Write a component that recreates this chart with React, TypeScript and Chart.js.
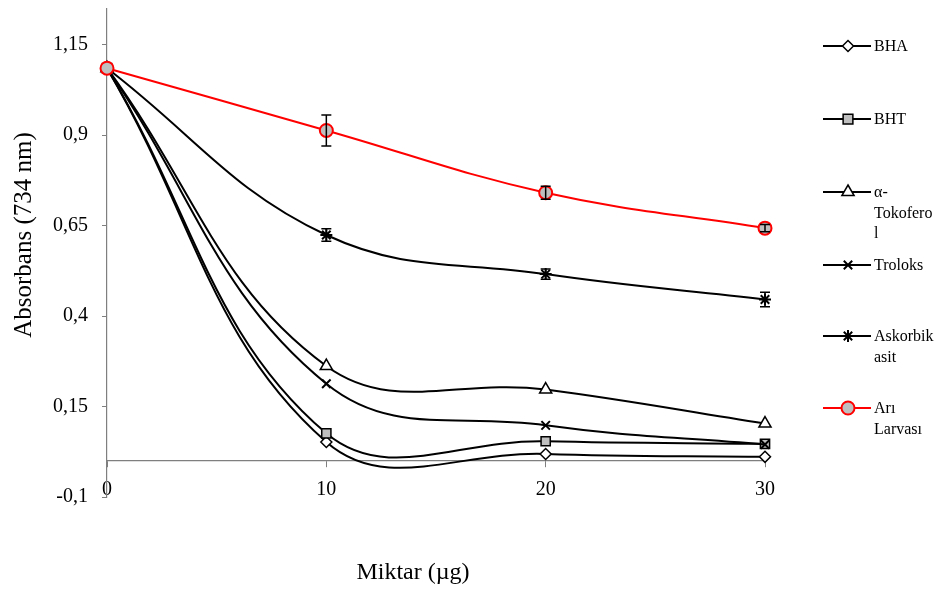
import React, { useEffect, useRef } from 'react';
import { Chart, registerables } from 'chart.js';

Chart.register(...registerables);

// ---- data ----
const xValues = [0, 10, 20, 30];
const bha = [1.085, 0.052, 0.019, 0.011];
const bht = [1.085, 0.076, 0.054, 0.047];
const tokoferol = [1.085, 0.262, 0.197, 0.103];
const troloks = [1.085, 0.213, 0.098, 0.045];
const askorbik = [1.085, 0.624, 0.516, 0.446];
const ariLarvasi = [1.085, 0.913, 0.741, 0.643];
const askorbikErr = [0, 0.017, 0.014, 0.02];
const ariLarvasiErr = [0, 0.043, 0.018, 0.01];
const yTickValues = [-0.1, 0.15, 0.4, 0.65, 0.9, 1.15];
const yTickLabels = ['-0,1', '0,15', '0,4', '0,65', '0,9', '1,15'];
const xTickValues = [0, 10, 20, 30];
const legendLabels = [['BHA'], ['BHT'], ['α-', 'Tokofero', 'l'], ['Troloks'], ['Askorbik', 'asit'], ['Arı', 'Larvası']];
const xTitle = 'Miktar (µg)';
const yTitle = 'Absorbans (734 nm)';

const SERIF = "'Liberation Serif', 'Times New Roman', serif";
const AXIS_COLOR = '#7f7f7f';

const styles = [
  { pointStyle: 'rectRot', radius: 5.5, bg: '#ffffff', border: '#000000', line: '#000000', bw: 1.5 },
  { pointStyle: 'rect', radius: 6.5, bg: '#bfbfbf', border: '#000000', line: '#000000', bw: 1.5 },
  { pointStyle: 'triangle', radius: 7, bg: '#ffffff', border: '#000000', line: '#000000', bw: 1.5 },
  { pointStyle: 'crossRot', radius: 6, bg: '#000000', border: '#000000', line: '#000000', bw: 2 },
  { pointStyle: 'star', radius: 6, bg: '#000000', border: '#000000', line: '#000000', bw: 2 },
  { pointStyle: 'circle', radius: 6.5, bg: '#bfbfbf', border: '#ff0000', line: '#ff0000', bw: 2 },
];

const seriesValues = [bha, bht, tokoferol, troloks, askorbik, ariLarvasi];
const seriesErrors: (number[] | null)[] = [null, null, null, null, askorbikErr, ariLarvasiErr];

function drawMarker(ctx: CanvasRenderingContext2D, s: any, x: number, y: number) {
  const r = s.radius;
  ctx.save();
  ctx.fillStyle = s.bg;
  ctx.strokeStyle = s.border;
  ctx.lineWidth = s.bw;
  ctx.beginPath();
  switch (s.pointStyle) {
    case 'rectRot':
      ctx.moveTo(x, y - r); ctx.lineTo(x + r, y); ctx.lineTo(x, y + r); ctx.lineTo(x - r, y); ctx.closePath();
      ctx.fill(); ctx.stroke(); break;
    case 'rect': {
      const h = r * 0.75;
      ctx.rect(x - h, y - h, 2 * h, 2 * h); ctx.fill(); ctx.stroke(); break;
    }
    case 'triangle':
      ctx.moveTo(x, y - r); ctx.lineTo(x + r * 0.87, y + r * 0.5); ctx.lineTo(x - r * 0.87, y + r * 0.5); ctx.closePath();
      ctx.fill(); ctx.stroke(); break;
    case 'crossRot': {
      const d = r * 0.7;
      ctx.moveTo(x - d, y - d); ctx.lineTo(x + d, y + d); ctx.moveTo(x + d, y - d); ctx.lineTo(x - d, y + d); ctx.stroke(); break;
    }
    case 'star': {
      const d = r * 0.7;
      ctx.moveTo(x - d, y - d); ctx.lineTo(x + d, y + d); ctx.moveTo(x + d, y - d); ctx.lineTo(x - d, y + d);
      ctx.moveTo(x, y - r); ctx.lineTo(x, y + r); ctx.stroke(); break;
    }
    case 'circle':
    default:
      ctx.arc(x, y, r, 0, Math.PI * 2); ctx.fill(); ctx.stroke(); break;
  }
  ctx.restore();
}

const errorBarPlugin = {
  id: 'errorBars',
  afterDatasetsDraw(chart: any) {
    const ctx = chart.ctx as CanvasRenderingContext2D;
    const xs = chart.scales.x;
    const ys = chart.scales.y;
    ctx.save();
    ctx.strokeStyle = '#000000';
    ctx.lineWidth = 1.5;
    seriesErrors.forEach((errs, si) => {
      if (!errs) return;
      errs.forEach((e, i) => {
        if (!e) return;
        const v = seriesValues[si][i];
        const px = xs.getPixelForValue(xValues[i]);
        const top = ys.getPixelForValue(v + e);
        const bot = ys.getPixelForValue(v - e);
        ctx.beginPath();
        ctx.moveTo(px, top); ctx.lineTo(px, bot);
        ctx.moveTo(px - 5, top); ctx.lineTo(px + 5, top);
        ctx.moveTo(px - 5, bot); ctx.lineTo(px + 5, bot);
        ctx.stroke();
      });
    });
    ctx.restore();
  },
};

const decorPlugin = {
  id: 'decor',
  afterDraw(chart: any) {
    const ctx = chart.ctx as CanvasRenderingContext2D;
    ctx.save();
    // axis titles
    ctx.fillStyle = '#000000';
    ctx.textAlign = 'center';
    ctx.textBaseline = 'middle';
    ctx.font = `24px ${SERIF}`;
    ctx.fillText(xTitle, 413, 573);
    ctx.save();
    ctx.translate(24, 235);
    ctx.rotate(-Math.PI / 2);
    ctx.font = `25px ${SERIF}`;
    ctx.fillText(yTitle, 0, 0);
    ctx.restore();

    // legend
    const legendY = [46, 119, 192, 265, 336, 408];
    const x0 = 823, x1 = 871, xm = 848, tx = 874, lineH = 20.5;
    ctx.font = `16px ${SERIF}`;
    ctx.textAlign = 'left';
    legendLabels.forEach((lines, i) => {
      const s = styles[i];
      const y = legendY[i];
      ctx.strokeStyle = s.line;
      ctx.lineWidth = 2;
      ctx.beginPath();
      ctx.moveTo(x0, y); ctx.lineTo(x1, y); ctx.stroke();
      drawMarker(ctx, s, xm, y);
      ctx.fillStyle = '#000000';
      lines.forEach((t, k) => ctx.fillText(t, tx, y + k * lineH + 1));
    });
    ctx.restore();
  },
};

export default function App() {
  const ref = useRef<HTMLCanvasElement | null>(null);
  useEffect(() => {
    if (!ref.current) return;
    const datasets = seriesValues.map((vals, i) => {
      const s = styles[i];
      return {
        label: legendLabels[i].join(''),
        data: vals.map((v, k) => ({ x: xValues[k], y: v })),
        borderColor: s.line,
        borderWidth: 2,
        backgroundColor: s.bg,
        pointStyle: s.pointStyle as any,
        pointRadius: s.radius,
        pointBorderColor: s.border,
        pointBackgroundColor: s.bg,
        pointBorderWidth: s.bw,
        tension: 0.4,
        fill: false,
        clip: false as any,
        order: i === 5 ? 0 : 6 - i,
      };
    });
    const zeroPad = (scale: any) => {
      scale.paddingTop = 0;
      scale.paddingBottom = 0;
      scale.paddingLeft = 0;
      scale.paddingRight = 0;
    };
    const chart = new Chart(ref.current, {
      type: 'line',
      data: { datasets },
      plugins: [errorBarPlugin, decorPlugin],
      options: {
        animation: false,
        responsive: false,
        events: [],
        layout: { padding: { left: 0, right: 182, top: 7, bottom: 96 } },
        plugins: { legend: { display: false }, tooltip: { enabled: false }, title: { display: false } },
        scales: {
          x: {
            type: 'linear',
            position: { y: 0 } as any,
            min: 0,
            max: 30,
            afterBuildTicks: (scale: any) => { scale.ticks = xTickValues.map((v) => ({ value: v })); },
            afterFit: zeroPad,
            ticks: { color: '#000000', font: { family: SERIF, size: 20 }, padding: 11, maxRotation: 0 },
            grid: { drawOnChartArea: false, drawTicks: true, tickLength: 6, color: AXIS_COLOR, lineWidth: 1 },
            border: { color: AXIS_COLOR, width: 1.2 },
          },
          y: {
            type: 'linear',
            position: 'left',
            min: -0.1,
            max: 1.25,
            afterBuildTicks: (scale: any) => { scale.ticks = yTickValues.map((v) => ({ value: v })); },
            afterFit: (scale: any) => { zeroPad(scale); scale.width = 107; },
            ticks: {
              color: '#000000',
              font: { family: SERIF, size: 20 },
              padding: 14,
              callback: (value: any) => {
                const idx = yTickValues.findIndex((t) => Math.abs(t - Number(value)) < 1e-9);
                return idx >= 0 ? yTickLabels[idx] : '';
              },
            },
            grid: { drawOnChartArea: false, drawTicks: true, tickLength: 5, color: AXIS_COLOR, lineWidth: 1 },
            border: { color: AXIS_COLOR, width: 1.2 },
          },
        },
      },
    });
    return () => chart.destroy();
  }, []);
  return (
    <div style={{ position: 'absolute', left: 0, top: 0, width: 947, height: 593, background: '#ffffff' }}>
      <canvas ref={ref} width={947} height={593} style={{ width: 947, height: 593, display: 'block' }} />
    </div>
  );
}
